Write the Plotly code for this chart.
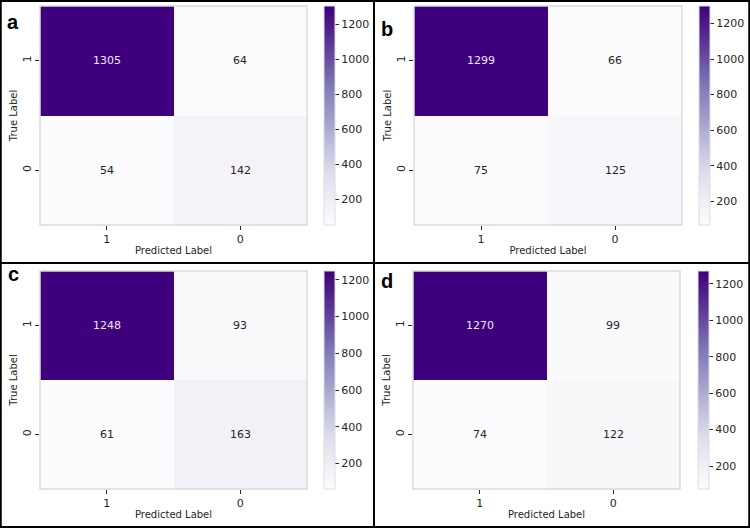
import plotly.graph_objects as go

# confusion matrices, rows = true label, cols = predicted label
labels = ["1", "0"]
panel_names = ["a", "b", "c", "d"]
cm_a = [[1305, 64], [54, 142]]
cm_b = [[1299, 66], [75, 125]]
cm_c = [[1248, 93], [61, 163]]
cm_d = [[1270, 99], [74, 122]]
matrices = [cm_a, cm_b, cm_c, cm_d]
cbar_ticks = [200, 400, 600, 800, 1000, 1200]

W, H = 750, 528
FONT = "DejaVu Sans"
TXT = "#262626"
FS = 10

# pixel boxes (left, right, top, bottom) of each heatmap, and colorbar left edge
boxes = [(40, 307, 6, 225), (414, 682, 6, 225), (40, 307, 271, 489), (413, 680, 271, 489)]
cbar_left = [324, 699, 324, 698]
tag_pos = [(13, 22), (387, 29), (13, 274), (387, 281)]


def px_x(v):
    return v / W


def px_y(v):
    return 1 - v / H


fig = go.Figure()
annotations = []
shapes = []

for i, cm in enumerate(matrices):
    n = "" if i == 0 else str(i + 1)
    left, right, top, bottom = boxes[i]
    flat = [v for row in cm for v in row]
    zmin, zmax = min(flat), max(flat)
    fig.add_trace(
        go.Heatmap(
            z=cm,
            x=labels,
            y=labels,
            xaxis="x" + n,
            yaxis="y" + n,
            coloraxis="coloraxis" + n,
        )
    )
    fig.update_layout(
        {
            "xaxis" + n: dict(
                type="category",
                domain=[px_x(left), px_x(right)],
                anchor="y" + n,
                ticks="outside",
                ticklen=4,
                tickcolor=TXT,
                showgrid=False,
                zeroline=False,
                tickfont=dict(size=FS + 1, color=TXT),
                title=dict(text="Predicted Label", font=dict(size=FS, color=TXT), standoff=1),
            ),
            "yaxis" + n: dict(
                type="category",
                domain=[px_y(bottom), px_y(top)],
                anchor="x" + n,
                autorange="reversed",
                ticks="outside",
                ticklen=4,
                tickcolor=TXT,
                tickangle=-90,
                showgrid=False,
                zeroline=False,
                tickfont=dict(size=FS + 1, color=TXT),
                title=dict(text="True Label", font=dict(size=FS, color=TXT), standoff=1),
            ),
            "coloraxis" + n: dict(
                colorscale="Purples",
                cmin=zmin,
                cmax=zmax,
                colorbar=dict(
                    x=px_x(cbar_left[i]),
                    xanchor="left",
                    xpad=0,
                    ypad=0,
                    y=px_y(top),
                    yanchor="top",
                    lenmode="pixels",
                    len=bottom - top,
                    thickness=11,
                    outlinewidth=1,
                    outlinecolor="#dddddd",
                    tickvals=cbar_ticks,
                    ticks="outside",
                    ticklen=4,
                    tickcolor=TXT,
                    tickfont=dict(size=FS + 1, color=TXT, family=FONT),
                ),
            ),
        }
    )
    # cell values (category index positions)
    for r, row in enumerate(cm):
        for c, v in enumerate(row):
            dark = (v - zmin) / (zmax - zmin) > 0.6
            annotations.append(
                dict(
                    x=c,
                    y=r,
                    xref="x" + n,
                    yref="y" + n,
                    text=str(v),
                    showarrow=False,
                    font=dict(size=FS + 1, color="#f0e6ff" if dark else TXT),
                )
            )
    # light frame round the heatmap
    shapes.append(
        dict(
            type="rect",
            xref="x" + n + " domain",
            yref="y" + n + " domain",
            x0=0, x1=1, y0=0, y1=1,
            line=dict(color="#dcdcdc", width=1.5),
        )
    )
    tx, ty = tag_pos[i]
    annotations.append(
        dict(
            x=px_x(tx),
            y=px_y(ty),
            xref="paper",
            yref="paper",
            xanchor="center",
            yanchor="middle",
            text="<b>" + panel_names[i] + "</b>",
            showarrow=False,
            font=dict(size=20, color="black", family="Liberation Sans"),
        )
    )

# panel frames
shapes.append(dict(type="rect", xref="paper", yref="paper", x0=0.001, x1=0.999, y0=0.002, y1=0.998,
                   line=dict(color="black", width=2)))
shapes.append(dict(type="line", xref="paper", yref="paper", x0=px_x(374), x1=px_x(374), y0=0, y1=1,
                   line=dict(color="black", width=2)))
shapes.append(dict(type="line", xref="paper", yref="paper", x0=0, x1=1, y0=px_y(263), y1=px_y(263),
                   line=dict(color="black", width=2)))

fig.update_layout(
    width=W,
    height=H,
    margin=dict(l=0, r=0, t=0, b=0),
    paper_bgcolor="white",
    plot_bgcolor="white",
    font=dict(family=FONT, color=TXT),
    annotations=annotations,
    shapes=shapes,
    showlegend=False,
)

fig.write_html(
    "out.html",
    config={"displayModeBar": False},
    post_script="document.body.style.margin='0';",
)
